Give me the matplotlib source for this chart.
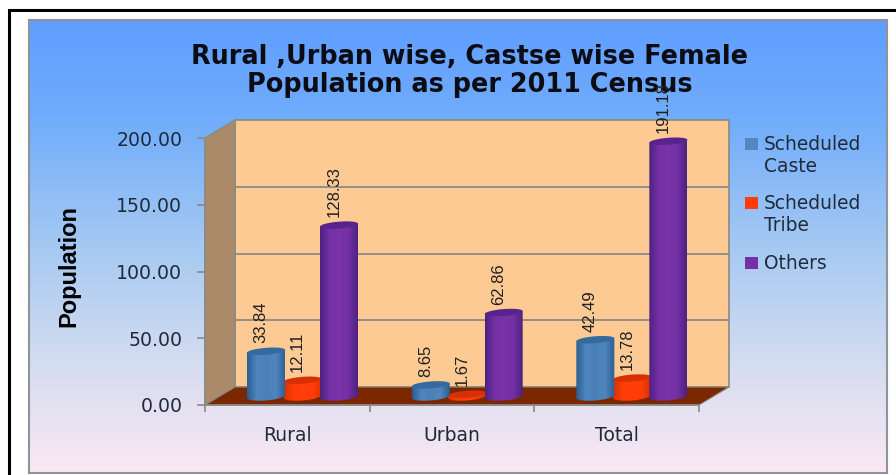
import matplotlib

matplotlib.use("Agg")

import matplotlib.pyplot as plt
import numpy as np
from matplotlib.colors import LinearSegmentedColormap
from matplotlib.patches import Polygon, Rectangle

categories = ["Rural", "Urban", "Total"]
series_names = ["Scheduled\nCaste", "Scheduled\nTribe", "Others"]
scheduled_caste = [33.84, 8.65, 42.49]
scheduled_tribe = [12.11, 1.67, 13.78]
others = [128.33, 62.86, 191.18]
y_ticks = [0, 50, 100, 150, 200]

W, H = 896, 475
NARROW = "Liberation Sans"
TEXT_COLOR = "#1f2a3a"
EDGE = "#8a8a86"
fig = plt.figure(figsize=(W / 100, H / 100), dpi=100, facecolor="white")


def px_axes(left, top, right, bottom, **kw):
    return fig.add_axes([left / W, 1 - bottom / H, (right - left) / W, (bottom - top) / H], **kw)


# panel with the vertical blue to pink gradient
bg = px_axes(28.5, 20, 887, 473)
bg_cmap = LinearSegmentedColormap.from_list(
    "panel", [(0, "#5f9eff"), (0.22, "#71adfb"), (0.5, "#a5c9f2"), (0.75, "#d3dcf0"), (1, "#fbe8f4")]
)
bg.imshow(np.linspace(0, 1, 256)[:, None], cmap=bg_cmap, aspect="auto", extent=[0, 1, 0, 1], origin="upper")
bg.set_xticks([])
bg.set_yticks([])
for s in bg.spines.values():
    s.set_color("#8f9499")
    s.set_linewidth(1.5)

# black frame around the picture, open on the right
frame = fig.add_axes([0, 0, 1, 1], facecolor="none")
frame.set_xlim(0, W)
frame.set_ylim(H, 0)
frame.axis("off")
frame.plot([9, 9, W], [H, 9.7, 9.7], color="black", lw=2.2, solid_joinstyle="miter")

# front plane of the 3D chart: categories on x, values on y
ax = px_axes(205, 138, 699, 405, facecolor="none")
x_per_px = 3 / 494
y_per_px = 200 / 267
dx = 30 * x_per_px
dy = 18 * y_per_px

ax.add_patch(Polygon([(dx, dy), (3 + dx, dy), (3 + dx, 200 + dy), (dx, 200 + dy)],
                     fc="#fdca94", ec=EDGE, lw=1.2, clip_on=False, zorder=1))
ax.add_patch(Polygon([(0, 0), (dx, dy), (dx, 200 + dy), (0, 200)],
                     fc="#aa8a68", ec=EDGE, lw=1, clip_on=False, zorder=1))
ax.add_patch(Polygon([(0, 0), (dx, dy), (3 + dx, dy), (3, 0)],
                     fc="#7b2700", ec=EDGE, lw=0.8, clip_on=False, zorder=2))
for v in y_ticks[1:4]:
    ax.plot([dx, 3 + dx], [v + dy, v + dy], color=EDGE, lw=1.3, clip_on=False, zorder=1.5)


def cylinder(xc, width, value, z, dark, mid, light, top_color):
    base = 6.4
    rx = width / 2
    ry_bottom = 3.0
    ry_top = 2.6
    tilt = 1.1
    t = np.linspace(0, np.pi, 40)
    top = base + value
    # body outline: top rim left to right, bottom rim right to left
    xs = np.concatenate([xc - rx * np.cos(t), xc + rx * np.cos(t)])
    ys = np.concatenate([top - tilt * np.cos(t), base - ry_bottom * np.sin(t) + tilt * np.cos(t)])
    body = Polygon(np.column_stack([xs, ys]), closed=True, fc="none", ec="none", clip_on=False)
    ax.add_patch(body)
    cmap = LinearSegmentedColormap.from_list("c", [dark, mid, light, mid, dark])
    im = ax.imshow(np.linspace(0, 1, 64)[None, :], cmap=cmap, aspect="auto", zorder=z,
                   extent=[xc - rx, xc + rx, base - ry_bottom - 2, top + 3])
    im.set_clip_path(body)
    theta = np.linspace(0, 2 * np.pi, 80)
    ax.add_patch(Polygon(np.column_stack([xc + rx * np.cos(theta),
                                          top + ry_top * np.sin(theta) + tilt * np.cos(theta)]),
                         fc=top_color, ec="none", clip_on=False, zorder=z + 0.05))
    ax.text(xc - 5 * x_per_px, top + 6, f"{value:.2f}", rotation=90, ha="center", va="bottom",
            fontsize=12, family=NARROW, color="#202020", zorder=5, clip_on=False)


bar_w = 38 * x_per_px
step = 36.5 * x_per_px
styles = [
    ("#2c5f92", "#4f86bd", "#4a80b8", "#356a9e"),
    ("#d93205", "#ff3d07", "#ff3f0a", "#d83006"),
    ("#4e2283", "#7430a4", "#7a33a8", "#58248c"),
]
# red sits behind its two neighbours
layer = [3.2, 3.0, 3.4]
for i in range(3):
    first = i + 61 * x_per_px
    for j, vals in enumerate([scheduled_caste, scheduled_tribe, others]):
        cylinder(first + j * step, bar_w, vals[i], layer[j], *styles[j])
ax.set_xlim(0, 3)
ax.set_ylim(0, 200)

ax.set_xticks([0, 1, 2, 3])
ax.set_xticklabels([])
ax.set_xticks([0.5, 1.5, 2.5], categories, minor=True)
ax.tick_params(axis="x", which="minor", length=0, labelsize=13.5, labelcolor=TEXT_COLOR, pad=15)
ax.tick_params(axis="x", which="major", length=5, color=EDGE, width=1.2)
ax.set_yticks(y_ticks, [f"{v:.2f}" for v in y_ticks])
ax.tick_params(axis="y", length=5.8, color=EDGE, width=1.2, labelsize=13.6, labelcolor=TEXT_COLOR, pad=10.5)
for s in ["top", "right"]:
    ax.spines[s].set_visible(False)
for s in ["left", "bottom"]:
    ax.spines[s].set_color(EDGE)
    ax.spines[s].set_linewidth(1.2)

frame.text(469.5, 71, "Rural ,Urban wise, Castse wise Female\nPopulation as per 2011 Census", ha="center",
           va="center", fontsize=18.4, fontweight="bold", color="#0c0c14", linespacing=1.1)
frame.text(69, 266, "Population", rotation=90, ha="center", va="center", fontsize=17,
           fontweight="bold", color="black", family=NARROW)

# legend
legend_colors = ["#5487bd", "#ff3d0a", "#7430a4"]
legend_y = [144, 203, 263]
for name, c, y in zip(series_names, legend_colors, legend_y):
    frame.add_patch(Rectangle((745, y - 6), 13, 12, fc=c, ec="none"))
    frame.text(764, y - 9, name, ha="left", va="top", fontsize=13.4, color=TEXT_COLOR, linespacing=1.2)

fig.savefig("out.png", dpi=100)
